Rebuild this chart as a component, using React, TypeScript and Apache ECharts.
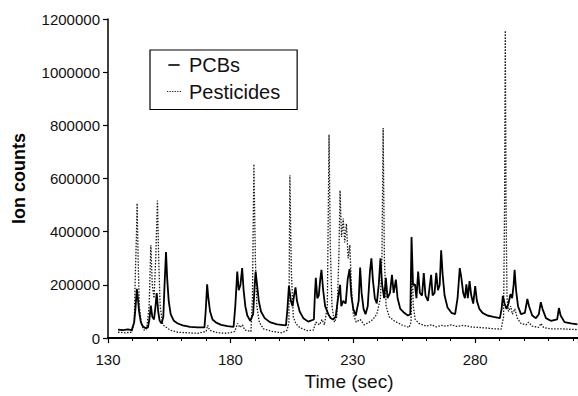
import React, { useEffect, useRef } from "react";
import * as echarts from "echarts";

const seriesNames = ["PCBs", "Pesticides"];
const xTicks = { min: 130, max: 322, interval: 50 };
const yTicks = { min: 0, max: 1200000, interval: 200000 };

const pcbs: [number, number][] = [
  [134.1, 32000], [136.1, 30000], [138.1, 33000], [139.7, 30000], [140.7, 60000], [141.2, 110000], [141.8, 185000], [142.2, 150000], [142.7, 100000], [143.4, 60000], [144.2, 45000], [145.2, 38000], [146.3, 40000], [146.9, 70000], [147.5, 122000], [148.1, 80000], [148.8, 70000], [149.3, 110000], [149.9, 169000], [150.5, 100000], [151.1, 65000], [151.9, 55000], [152.6, 80000], [153.1, 200000], [153.7, 324000], [154.2, 220000], [154.8, 140000], [155.6, 90000], [156.9, 65000], [158.5, 55000], [160.5, 48000], [163.5, 42000], [166.6, 40000], [169.4, 40000], [169.9, 100000], [170.5, 202000], [171.0, 150000], [171.7, 100000], [172.7, 70000], [174.2, 58000], [176.2, 50000], [178.8, 45000], [181.3, 42000], [182.0, 120000], [182.8, 250000], [183.4, 180000], [184.1, 200000], [184.8, 263000], [185.4, 180000], [186.1, 120000], [186.9, 85000], [188.1, 65000], [189.3, 90000], [189.8, 180000], [190.3, 250000], [190.9, 200000], [191.6, 140000], [192.5, 100000], [194.0, 75000], [196.1, 60000], [199.1, 52000], [202.7, 48000], [203.3, 110000], [203.9, 196000], [204.7, 140000], [205.4, 120000], [206.0, 160000], [206.6, 191000], [207.2, 140000], [208.3, 100000], [209.8, 75000], [211.8, 62000], [214.1, 70000], [214.5, 160000], [214.9, 227000], [215.5, 150000], [216.1, 160000], [216.7, 220000], [217.2, 257000], [217.9, 180000], [218.7, 120000], [220.0, 90000], [221.0, 75000], [222.0, 70000], [223.0, 80000], [224.0, 150000], [224.8, 200000], [225.3, 120000], [226.1, 140000], [227.1, 130000], [227.9, 220000], [228.7, 260000], [229.4, 160000], [230.2, 110000], [231.2, 85000], [232.4, 140000], [233.0, 265000], [233.6, 170000], [234.4, 110000], [235.2, 90000], [236.1, 120000], [237.0, 250000], [237.6, 300000], [238.2, 220000], [239.0, 150000], [239.8, 130000], [240.6, 200000], [241.3, 300000], [242.0, 200000], [242.8, 150000], [243.5, 227000], [244.2, 150000], [245.2, 170000], [246.0, 238000], [246.7, 170000], [247.6, 220000], [248.3, 150000], [249.4, 110000], [251.0, 95000], [252.5, 85000], [253.5, 90000], [254.0, 380000], [254.6, 200000], [255.4, 202000], [256.0, 150000], [256.7, 250000], [257.4, 170000], [258.3, 160000], [259.0, 245000], [259.7, 160000], [260.7, 140000], [262.0, 238000], [262.6, 160000], [263.4, 170000], [264.1, 245000], [264.8, 180000], [265.5, 200000], [266.1, 330000], [266.7, 240000], [267.5, 160000], [268.7, 115000], [270.3, 95000], [271.8, 90000], [272.8, 150000], [273.7, 263000], [274.3, 230000], [275.1, 170000], [275.8, 150000], [276.4, 202000], [277.0, 150000], [277.7, 214000], [278.4, 160000], [279.2, 130000], [280.0, 196000], [280.7, 140000], [281.7, 110000], [283.0, 95000], [285.0, 85000], [287.5, 80000], [290.1, 75000], [290.8, 110000], [291.3, 159000], [292.0, 130000], [292.8, 110000], [293.6, 130000], [294.4, 165000], [295.1, 150000], [295.7, 200000], [296.1, 257000], [296.7, 180000], [297.5, 120000], [298.7, 90000], [300.3, 95000], [301.3, 147000], [302.0, 120000], [303.3, 85000], [304.8, 75000], [306.0, 90000], [306.8, 135000], [307.5, 110000], [308.9, 75000], [310.9, 65000], [313.5, 70000], [314.2, 113000], [314.9, 85000], [316.5, 60000], [319.1, 55000], [321.8, 52000],
];

const pesticides: [number, number][] = [
  [134.1, 22000], [137.1, 20000], [139.7, 22000], [140.7, 60000], [141.2, 250000], [141.6, 380000], [141.9, 507000], [142.3, 300000], [142.8, 120000], [143.7, 50000], [144.7, 30000], [145.8, 35000], [146.8, 120000], [147.5, 349000], [148.1, 200000], [148.8, 150000], [149.5, 300000], [150.2, 517000], [150.7, 300000], [151.3, 120000], [152.4, 50000], [153.9, 40000], [155.4, 30000], [158.5, 22000], [162.5, 20000], [166.6, 18000], [170.1, 25000], [170.7, 48000], [171.5, 30000], [174.7, 20000], [178.8, 18000], [181.8, 25000], [182.9, 55000], [183.9, 40000], [184.9, 50000], [185.9, 30000], [188.4, 25000], [189.0, 150000], [189.6, 654000], [190.2, 300000], [190.8, 120000], [191.8, 60000], [193.5, 35000], [197.1, 25000], [201.1, 20000], [203.2, 30000], [203.9, 60000], [204.3, 612000], [204.9, 250000], [205.7, 80000], [206.7, 55000], [208.3, 40000], [211.3, 28000], [213.9, 30000], [214.9, 60000], [216.4, 50000], [217.4, 70000], [218.4, 50000], [219.6, 120000], [220.3, 765000], [220.8, 350000], [221.5, 120000], [222.5, 60000], [223.5, 80000], [224.3, 300000], [224.8, 555000], [225.4, 380000], [226.1, 450000], [226.7, 360000], [227.4, 430000], [228.1, 300000], [228.8, 350000], [229.4, 200000], [230.2, 90000], [231.4, 60000], [233.0, 70000], [234.7, 50000], [236.7, 60000], [238.2, 70000], [239.8, 90000], [241.3, 150000], [241.9, 300000], [242.4, 790000], [242.9, 300000], [243.6, 120000], [244.9, 80000], [246.9, 65000], [249.9, 50000], [253.0, 40000], [253.8, 60000], [254.2, 300000], [254.7, 120000], [255.5, 70000], [257.1, 55000], [260.1, 45000], [262.1, 50000], [264.2, 42000], [266.2, 48000], [268.2, 45000], [270.3, 50000], [272.3, 44000], [275.3, 48000], [278.4, 42000], [281.4, 40000], [284.5, 38000], [287.5, 35000], [290.6, 34000], [291.6, 80000], [292.0, 500000], [292.3, 1156000], [292.6, 500000], [293.0, 150000], [293.6, 100000], [294.5, 120000], [295.2, 90000], [296.2, 110000], [297.2, 75000], [298.7, 55000], [300.8, 50000], [301.8, 60000], [303.3, 45000], [305.8, 40000], [306.9, 55000], [307.9, 40000], [310.9, 35000], [315.0, 35000], [319.1, 33000], [321.8, 32000],
];

const FONT = "'Liberation Sans', Arial, sans-serif";
const SOLID_ICON = "path://M0,0H14V2H0Z";
const DOTTED_ICON =
  "path://M0,0H1.2V1H0Z M2.4,0H3.6V1H2.4Z M4.8,0H6V1H4.8Z M7.2,0H8.4V1H7.2Z M9.6,0H10.8V1H9.6Z M12,0H13.2V1H12Z";

export default function App() {
  const ref = useRef<HTMLDivElement>(null);
  useEffect(() => {
    if (!ref.current) return;
    const chart = echarts.init(ref.current, null, { renderer: "svg" });
    chart.setOption({
      animation: false,
      backgroundColor: "#ffffff",
      grid: { left: 108, top: 19, height: 326, width: 470, containLabel: false },
      legend: {
        orient: "vertical",
        left: 150,
        top: 50,
        padding: [5, 17, 8, 17],
        itemGap: 6.5,
        itemWidth: 14,
        itemHeight: 1.6,
        borderColor: "#000",
        borderWidth: 1.2,
        backgroundColor: "#fff",
        data: [
          { name: seriesNames[0], icon: SOLID_ICON, itemStyle: { color: "#000" } },
          { name: seriesNames[1], icon: DOTTED_ICON, itemStyle: { color: "#222" } },
        ],
        textStyle: { fontFamily: FONT, fontSize: 20, color: "#111", lineHeight: 20, padding: [0, 0, 0, 3] },
      },
      xAxis: {
        type: "value",
        min: xTicks.min,
        max: xTicks.max,
        interval: xTicks.interval,
        name: "Time (sec)",
        nameLocation: "middle",
        nameGap: 31,
        nameTextStyle: { fontFamily: FONT, fontSize: 19, color: "#111", padding: [0, 0, 0, 12] },
        axisLine: { lineStyle: { color: "#000", width: 1.8 } },
        axisTick: { show: true, length: 5, lineStyle: { color: "#000", width: 1.2 } },
        minorTick: { show: true, splitNumber: 5, length: 3, lineStyle: { color: "#000", width: 1 } },
        splitLine: { show: false },
        axisLabel: {
          fontFamily: FONT,
          fontSize: 15,
          color: "#111",
          margin: 14,
          showMaxLabel: false,
          formatter: (v: number) => String(v),
        },
      },
      yAxis: {
        type: "value",
        min: yTicks.min,
        max: yTicks.max,
        interval: yTicks.interval,
        name: "Ion counts",
        nameLocation: "middle",
        nameGap: 80,
        nameTextStyle: { fontFamily: FONT, fontSize: 18, fontWeight: "bold", color: "#000" },
        axisLine: { show: true, lineStyle: { color: "#000", width: 1.5 } },
        axisTick: { show: true, length: 5, lineStyle: { color: "#000", width: 1.2 } },
        splitLine: { show: false },
        axisLabel: {
          fontFamily: FONT,
          fontSize: 15,
          color: "#111",
          margin: 8,
          formatter: (v: number) => String(v),
        },
      },
      series: [
        {
          name: seriesNames[0],
          type: "line",
          data: pcbs,
          showSymbol: false,
          symbol: "none",
          lineStyle: { color: "#000", width: 1.8, type: "solid" },
          itemStyle: { color: "#000" },
          z: 3,
        },
        {
          name: seriesNames[1],
          type: "line",
          data: pesticides,
          showSymbol: false,
          symbol: "none",
          lineStyle: { color: "#1a1a1a", width: 1.3, type: [1.5, 1.5] },
          itemStyle: { color: "#222" },
          z: 2,
        },
      ],
    });
    return () => chart.dispose();
  }, []);
  return (
    <div
      ref={ref}
      style={{ position: "fixed", left: 0, top: 0, width: 578, height: 396, background: "#fff" }}
    />
  );
}
